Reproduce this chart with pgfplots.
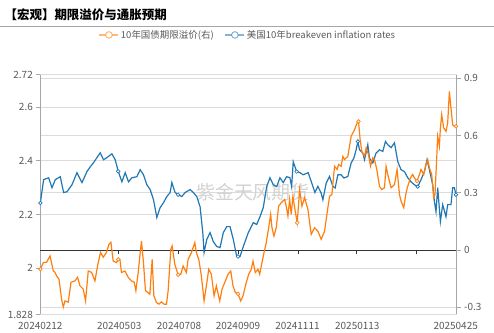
\documentclass[border=0pt]{standalone}
\usepackage{fontspec}
\setmainfont{Noto Sans CJK SC}
\usepackage{pgfplots}
\pgfplotsset{compat=1.18}
\definecolor{bl}{RGB}{31,119,180}
\definecolor{orc}{RGB}{255,127,14}
\definecolor{tk}{RGB}{89,89,89}
\definecolor{gr}{RGB}{220,220,220}
\pgfplotsset{set layers,
  legend image code/.code={\draw[#1, draw opacity=0.55, line width=1.2bp] (0bp,0bp) -- (19bp,0bp);
    \draw[#1, draw opacity=0.55, fill=white, line width=1bp] (9.5bp,0bp) circle (3.3bp);}}
\begin{document}
\begin{tikzpicture}
\path (0,0) rectangle (494bp,333bp);
\node[anchor=west, inner sep=0pt, font=\fontsize{12.5bp}{14bp}\selectfont\bfseries] at (4bp,318bp) {【宏观】期限溢价与通胀预期};
\draw[gray!70, line width=0.8bp] (0,307bp) -- (494bp,307bp);
\node[font=\fontsize{19bp}{20bp}\selectfont, text=gray!35] at (253bp,140bp) {紫金天风期货};
\begin{axis}[
  at={(40bp,18bp)}, anchor=south west,
  scale only axis, width=417bp, height=240bp,
  xmin=0, xmax=417, ymin=1.828, ymax=2.72,
  axis y line*=left, axis x line*=bottom,
  x axis line style={draw=none},
  y axis line style={draw=gray!70, line width=0.8bp},
  xtick={0,79,139,198,257.5,317.5,416},
  xticklabels={20240212,20240503,20240708,20240909,20241111,20250113,20250425},
  xtick style={draw=none},
  ytick={1.828,2,2.2,2.4,2.6,2.72},
  yticklabels={1.828,2,2.2,2.4,2.6,2.72},
  ytick style={draw=gray!70, line width=0.8bp},
  tick align=outside, major tick length=4bp,
  ymajorgrids, grid style={draw=gr, line width=0.8bp},
  tick label style={font=\fontsize{10bp}{12bp}\selectfont, text=tk},
  legend style={at={(0.4988,1.1667)}, anchor=center, draw=none, fill=none,
    font=\fontsize{9.5bp}{11bp}\selectfont, text=tk,
    /tikz/every even column/.append style={column sep=9bp}},
  legend columns=2,
]
\addlegendimage{orc, line width=1.2bp}
\addlegendentry{10年国债期限溢价(右)}
\addplot[bl, line width=1.2bp] coordinates {
(0,2.243) (3.3,2.330) (8.3,2.337) (11.7,2.300) (15,2.330) (20,2.341) (23.3,2.282) (26.7,2.285) (31.7,2.311) (36.7,2.356) (41.7,2.319) (46.7,2.360) (50,2.378) (53.3,2.393) (56.7,2.412) (60,2.430) (63.3,2.404) (66.7,2.412) (71.7,2.426) (75,2.404) (78,2.361) (81.7,2.322) (85,2.356) (88.3,2.322) (91.7,2.337) (96.7,2.341) (100,2.367) (103.3,2.348) (106.7,2.311) (110,2.293) (113.3,2.256) (116.7,2.189) (120,2.226) (123.3,2.244) (126.7,2.267) (130,2.282) (131.7,2.319) (135,2.282) (138,2.274) (141.7,2.267) (145,2.282) (150,2.293) (153.3,2.282) (156.7,2.267) (160,2.229) (162.7,2.133) (164,2.059) (166.7,2.107) (170,2.133) (173.3,2.099) (176.7,2.081) (180,2.077) (183.3,2.133) (186.7,2.155) (190,2.155) (193.3,2.107) (196.7,2.044) (200,2.044) (203.3,2.081) (208.3,2.133) (213.3,2.170) (216.7,2.163) (220,2.192) (223.3,2.226) (226.7,2.304) (230,2.337) (233.3,2.311) (236.7,2.304) (240,2.337) (243.3,2.319) (246.7,2.341) (250,2.337) (251.7,2.304) (253.3,2.397) (256.7,2.360) (260,2.356) (263.3,2.348) (268.3,2.356) (271.7,2.319) (275,2.282) (278,2.305) (281.3,2.280) (283,2.255) (286.3,2.317) (289.7,2.342) (293,2.305) (295.3,2.299) (298,2.348) (301.3,2.348) (304,2.336) (308,2.342) (311.3,2.392) (314,2.410) (316.3,2.441) (318,2.472) (319.7,2.441) (323,2.429) (324.7,2.404) (328,2.460) (329.7,2.410) (333,2.392) (336.3,2.429) (339.7,2.441) (343,2.435) (345.7,2.472) (348,2.460) (351.3,2.449) (354.7,2.467) (358,2.397) (361.3,2.367) (364.7,2.360) (368,2.337) (371.3,2.322) (374.7,2.311) (378,2.304) (381.3,2.330) (384.7,2.360) (387.3,2.404) (389.7,2.367) (393,2.311) (394.7,2.248) (396.3,2.211) (398,2.300) (400.7,2.174) (403,2.237) (406.3,2.192) (408,2.237) (411.3,2.237) (413,2.300) (414.7,2.300) (416.3,2.274)
};
\addlegendentry{美国10年breakeven inflation rates}
\addplot[only marks, mark=*, mark size=1.8bp, mark options={fill=white, draw=bl, line width=0.7bp}, forget plot] coordinates {
(0,2.243) (78,2.361) (138,2.274) (198,2.044) (256.7,2.360) (318,2.472) (378,2.304) (416.3,2.274)
};
\end{axis}
\begin{axis}[
  at={(40bp,18bp)}, anchor=south west,
  scale only axis, width=417bp, height=240bp,
  xmin=0, xmax=417, ymin=-0.338, ymax=0.918,
  axis y line*=right, axis x line*=middle,
  x axis line style={draw=black!80, line width=0.8bp},
  y axis line style={draw=gray!70, line width=0.8bp},
  xtick={78,138,198,258,317,377}, xticklabels={},
  xtick style={draw=black!80, line width=0.8bp},
  xtick align=outside,
  ytick={-0.3,0,0.3,0.6,0.9},
  yticklabels={-0.3,0,0.3,0.6,0.9},
  ytick style={draw=gray!70, line width=0.8bp},
  ytick align=outside, major tick length=4bp,
  ymajorgrids, grid style={draw=gr, line width=0.8bp},
  tick label style={font=\fontsize{10bp}{12bp}\selectfont, text=tk},
]
\addplot[orc, line width=1.2bp] coordinates {
(0,-0.101) (3,-0.066) (6.3,-0.064) (9.7,-0.031) (13,-0.110) (14.7,-0.117) (16.3,-0.136) (18.7,-0.153) (21.3,-0.258) (23,-0.299) (24.7,-0.267) (28,-0.273) (30.7,-0.169) (34.7,-0.162) (37.3,-0.143) (39.7,-0.188) (43,-0.205) (45.3,-0.267) (48,-0.110) (51.3,-0.117) (54.7,-0.162) (57.3,-0.084) (60.3,-0.012) (63,-0.038) (66.3,-0.012) (68.7,0.030) (70.7,0.040) (73,-0.058) (76.3,-0.066) (78,-0.049) (79.7,-0.049) (81.3,-0.118) (84.7,-0.110) (88,-0.143) (91.3,-0.162) (94,-0.169) (95.7,-0.214) (98,-0.118) (99.7,-0.031) (101.3,0.047) (103.3,-0.066) (105.3,-0.214) (107.3,-0.221) (109.7,-0.232) (112,-0.049) (113.7,-0.240) (116.3,-0.275) (118.7,-0.284) (121.3,-0.272) (124,-0.284) (126.3,-0.284) (128,-0.214) (130.7,0.004) (132,0.021) (134.7,-0.075) (138,-0.130) (140.7,-0.127) (143,-0.084) (146.3,-0.118) (148,-0.049) (151.3,-0.014) (154.7,0.039) (156.3,-0.014) (158.7,-0.049) (161.3,-0.136) (164,-0.267) (166.3,-0.188) (168.7,-0.101) (171.3,-0.127) (174,-0.240) (176.3,-0.188) (179.7,-0.267) (182,-0.205) (184.7,-0.170) (188,-0.127) (190.7,-0.110) (193,-0.188) (195.3,-0.223) (198,-0.230) (200.7,-0.267) (203,-0.240) (206.3,-0.170) (208.7,-0.127) (211.3,-0.101) (213,-0.058) (215.3,-0.118) (218,-0.101) (219.7,-0.127) (222,-0.066) (224,-0.014) (226.3,0.039) (228.7,0.117) (230.7,0.187) (232,0.117) (234,0.073) (236.3,0.117) (238.7,0.230) (241.3,0.248) (244.7,0.265) (246.3,0.230) (248,0.178) (249.7,0.265) (251.3,0.187) (253,0.282) (254.7,0.222) (257.3,0.143) (259.7,0.317) (262,0.230) (264.7,0.274) (268,0.213) (271.3,0.082) (274.7,0.117) (278,0.099) (281.3,0.056) (284.7,0.099) (287.3,0.196) (289.7,0.282) (292,0.291) (294.7,0.439) (297.3,0.422) (298.7,0.448) (301.3,0.439) (303,0.491) (304.7,0.474) (308,0.491) (311.3,0.596) (314.7,0.631) (317.3,0.666) (318.7,0.674) (320.3,0.579) (322,0.517) (324.7,0.491) (326.3,0.535) (328.7,0.500) (330.7,0.439) (333,0.483) (334.7,0.474) (337,0.422) (339.7,0.334) (342,0.317) (344.7,0.326) (346.3,0.439) (348,0.396) (351.3,0.326) (354.7,0.343) (357.3,0.422) (359.7,0.291) (361.3,0.256) (364,0.222) (366.3,0.300) (368,0.334) (370.7,0.378) (373,0.396) (374.7,0.378) (377.3,0.361) (379.7,0.396) (381.3,0.422) (384,0.396) (386.3,0.448) (388,0.474) (389.7,0.431) (392,0.396) (394,0.274) (395.3,0.291) (396.7,0.448) (398,0.596) (399.7,0.544) (400.7,0.640) (402,0.709) (404,0.640) (406.3,0.622) (408,0.666) (409.7,0.831) (411.3,0.744) (413,0.657) (414.7,0.648) (416.3,0.648)
};
\addplot[only marks, mark=*, mark size=1.8bp, mark options={fill=white, draw=orc, line width=0.7bp}] coordinates {
(0,-0.101) (78,-0.049) (138,-0.130) (198,-0.230) (257.3,0.143) (318.7,0.674) (377.3,0.361) (416.3,0.648)
};
\end{axis}
\end{tikzpicture}
\end{document}
